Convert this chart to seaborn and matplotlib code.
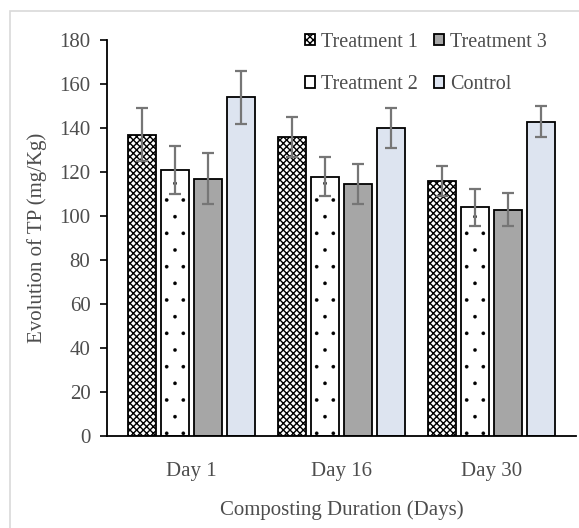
import matplotlib
matplotlib.use("Agg")
import matplotlib.pyplot as plt
from matplotlib.patches import Rectangle
import seaborn as sns
import pandas as pd

days = ["Day 1", "Day 16", "Day 30"]
groups = ["Treatment 1", "Treatment 2", "Treatment 3", "Control"]

treatment1 = [137, 136, 116]
treatment2 = [121, 118, 104]
treatment3 = [117, 114.5, 103]
control = [154, 140, 143]

err_t1 = [12, 9, 7]
err_t2 = [11, 9, 8.5]
err_t3 = [11.5, 9, 7.5]
err_c = [12, 9, 7]

values = [treatment1, treatment2, treatment3, control]
errors = [err_t1, err_t2, err_t3, err_c]

rows = []
for g, vals in zip(groups, values):
    for d, v in zip(days, vals):
        rows.append({"day": d, "group": g, "tp": v})
df = pd.DataFrame(rows)

sns.set_style("white")
plt.rcParams["font.family"] = ["Liberation Serif", "DejaVu Serif"]
plt.rcParams["hatch.linewidth"] = 1.0

grey = "#4d4d4d"
fills = ["white", "white", "#a6a6a6", "#dae3f3"]
hatches = ["xxxxx", ".", "", ""]
legend_hatches = ["xxxxx", "", "", ""]  # dots too small to show in the key
hatch_lw = [1.0, 0.2, 1.0, 1.0]
fs = 15

fig = plt.figure(figsize=(5.79, 5.28), dpi=100)
ax = fig.add_axes([0.185, 0.174, 0.81, 0.75])

sns.barplot(data=df, x="day", y="tp", hue="group", order=days, hue_order=groups,
            palette=fills, width=0.88, gap=0.15, errorbar=None,
            edgecolor="black", linewidth=1.3, ax=ax)

for cont, h, hl, errs in zip(ax.containers, hatches, hatch_lw, errors):
    xs, ys = [], []
    for bar in cont:
        bar.set_hatch(h)
        bar.set_hatch_linewidth(hl)
        bar.set_edgecolor("black")
        xs.append(bar.get_x() + bar.get_width() / 2)
        ys.append(bar.get_height())
    ax.errorbar(xs, ys, yerr=errs, fmt="none", ecolor="#767676",
                elinewidth=1.6, capsize=4.5, capthick=1.6, zorder=5)

ax.set_ylim(0, 180)
ax.set_yticks(range(0, 181, 20))
ax.set_xlim(-0.563, 2.563)
ax.set_xlabel("Composting Duration (Days)", fontsize=fs, color=grey, labelpad=14)
ax.set_ylabel("Evolution of TP (mg/Kg)", fontsize=fs, color=grey, labelpad=9)
ax.tick_params(axis="y", which="both", left=True, length=5, width=1.2,
               color="black", labelsize=fs, labelcolor=grey, pad=7)
ax.tick_params(axis="x", bottom=False, labelsize=fs, labelcolor=grey, pad=15)
sns.despine(ax=ax, top=True, right=True)
ax.spines["left"].set_color("black")
ax.spines["left"].set_linewidth(1.3)
ax.spines["bottom"].set_color("black")
ax.spines["bottom"].set_linewidth(1.3)

handles, labels = ax.get_legend_handles_labels()
for hd, h in zip(handles, legend_hatches):
    hd.set_hatch(h)
ax.legend(handles, labels, ncol=2, loc="upper left", bbox_to_anchor=(0.495, 0.972),
          bbox_transform=fig.transFigure, frameon=False, fontsize=14.5,
          labelcolor=grey, handlelength=0.5, handleheight=0.5,
          handletextpad=0.3, columnspacing=0.8, labelspacing=1.15)

fig.patches.append(Rectangle((10 / 579, -0.1), 1.2, 1.1 - 11 / 528,
                             transform=fig.transFigure, fill=False,
                             edgecolor="#d9d9d9", linewidth=1.2))

fig.savefig("out.png", dpi=100)
